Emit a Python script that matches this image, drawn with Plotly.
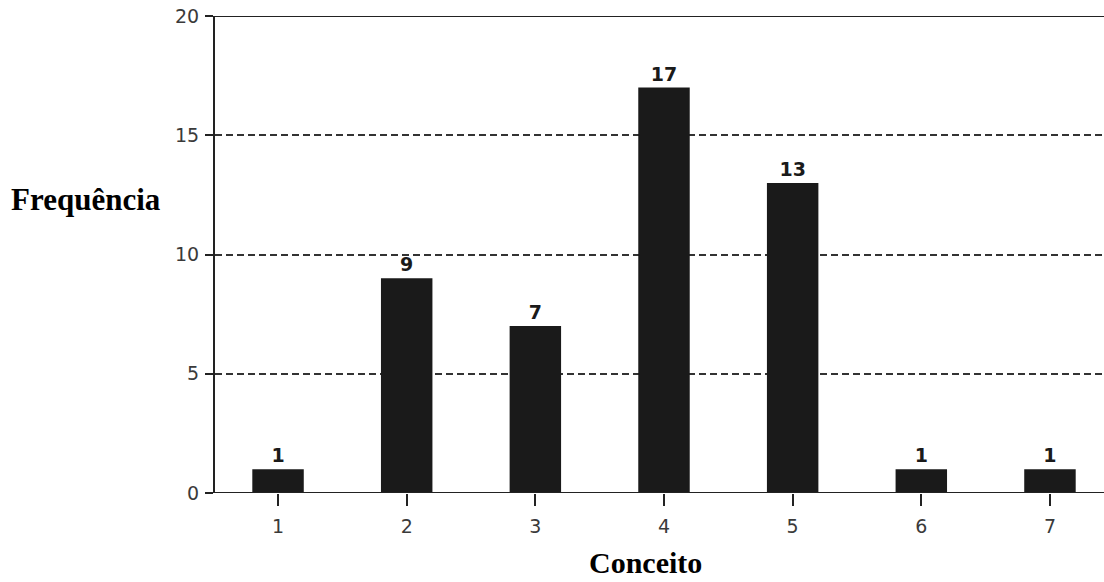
import plotly.graph_objects as go

conceitos = [1, 2, 3, 4, 5, 6, 7]
frequencias = [1, 9, 7, 17, 13, 1, 1]
y_ticks = [0, 5, 10, 15, 20]

W, H = 1104, 582
L, R, T, B = 215, 0, 16, 89
plot_w = W - L - R
plot_h = H - T - B


def px_to_paper(px, py):
    """Convert a pixel position on the page to paper coordinates."""
    return (px - L) / plot_w, (H - B - py) / plot_h


fig = go.Figure()
fig.add_trace(go.Bar(
    x=conceitos,
    y=frequencias,
    width=0.40,
    marker=dict(color="#1a1a1a", line=dict(width=0)),
    text=[str(v) for v in frequencias],
    textposition="outside",
    cliponaxis=False,
    textfont=dict(family="DejaVu Sans", size=19, color="#1a1a1a", weight="bold"),
))

tick_font = dict(family="DejaVu Sans", size=19, color="#3a3a3a")

fig.update_layout(
    width=W, height=H,
    margin=dict(l=L, r=R, t=T, b=B),
    paper_bgcolor="white", plot_bgcolor="white",
    showlegend=False,
    xaxis=dict(
        range=[0.51, 7.42],
        tickvals=conceitos,
        ticktext=[str(c) for c in conceitos],
        ticks="outside", ticklen=12, tickcolor="#222", tickwidth=1.5,
        ticklabelstandoff=4,
        tickfont=tick_font,
        showgrid=False, zeroline=False,
        showline=False,
    ),
    yaxis=dict(
        range=[0, 20],
        tickvals=y_ticks,
        ticks="outside", ticklen=8, tickcolor="#222", tickwidth=1.5,
        ticklabelstandoff=2,
        tickfont=tick_font,
        showgrid=True, gridcolor="#333", gridwidth=1.5, griddash="7px,4px",
        zeroline=False,
        showline=True, linecolor="#222", linewidth=2,
    ),
)

title_font = dict(family="Liberation Serif", size=30, color="black")
fx, fy = px_to_paper(86, 200)
cx, cy = px_to_paper(645, 562)
fig.add_annotation(text="<b>Frequência</b>", x=fx, y=fy, xref="paper", yref="paper",
                   xanchor="center", yanchor="middle", showarrow=False,
                   font=dict(family="Liberation Serif", size=31, color="black"))
fig.add_annotation(text="<b>Conceito</b>", x=cx, y=cy, xref="paper", yref="paper",
                   xanchor="center", yanchor="middle", showarrow=False, font=title_font)

# solid baseline and top border drawn over the dashed grid
fig.add_shape(type="line", xref="paper", yref="y", x0=0, x1=1, y0=0, y1=0,
              line=dict(color="#222", width=2), layer="above")
fig.add_shape(type="line", xref="paper", yref="y", x0=0, x1=1, y0=20, y1=20,
              line=dict(color="#222", width=2), layer="above")

fig.write_html("out.html")
